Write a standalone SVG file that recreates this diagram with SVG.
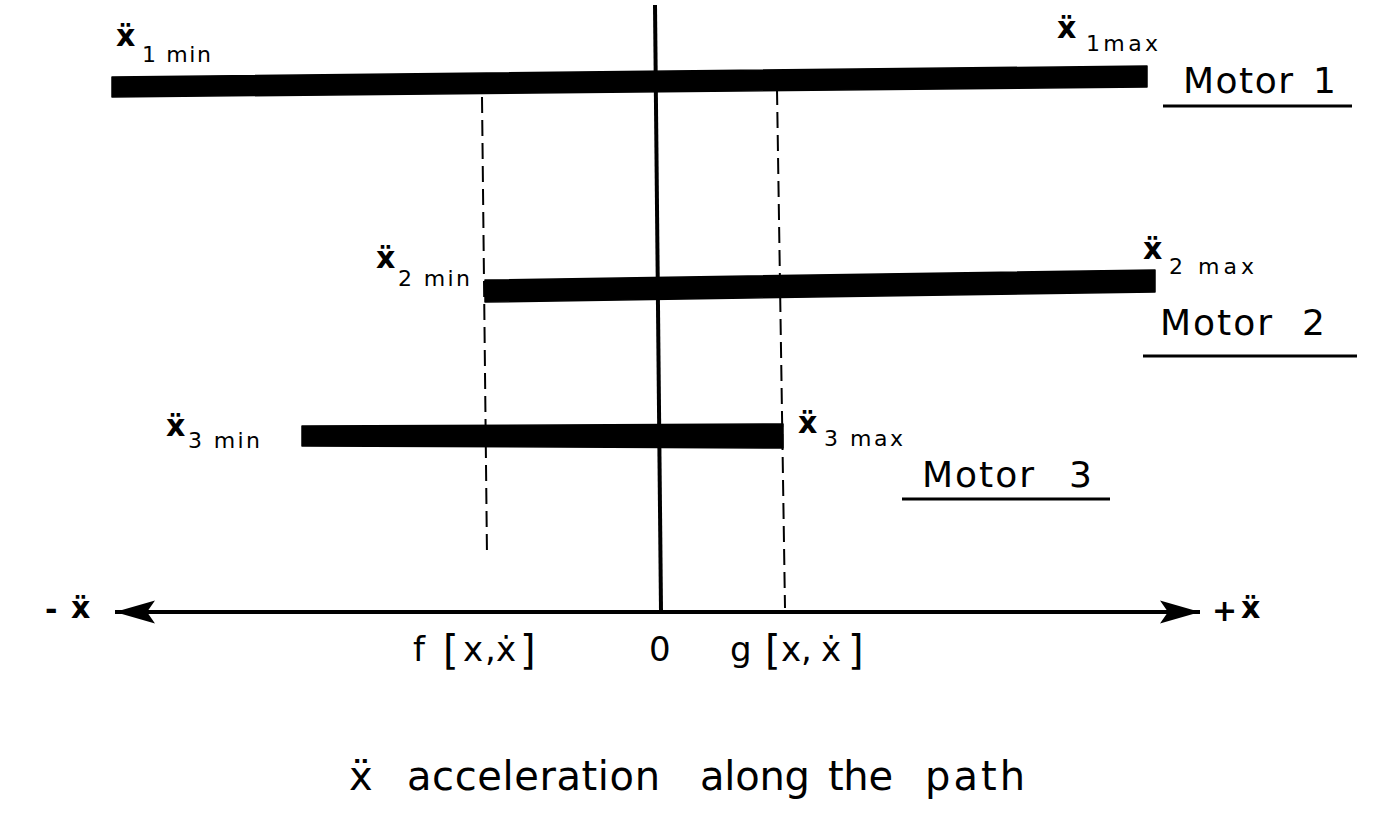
<svg xmlns="http://www.w3.org/2000/svg" width="1391" height="813" viewBox="0 0 1391 813">
<style>
text{font-family:"DejaVu Sans","Liberation Sans",sans-serif;fill:#000}
.v{font-size:30px;font-weight:bold}
.sub{font-size:22px}
.motor{font-size:36px}
.lab{font-size:34px}
.br{font-size:40px}
.cap{font-size:40px}
.bar{fill:#000;stroke:#000;stroke-width:1.5;stroke-linejoin:round}
.ul{stroke:#000;stroke-width:3;fill:none}
.dash{stroke:#000;stroke-width:2;fill:none;stroke-dasharray:16 7}
.axis{stroke:#000;stroke-width:4;fill:none}
</style>
<defs>
<marker id="arr" viewBox="0 -12 40 24" refX="40" refY="0" markerWidth="40" markerHeight="24" markerUnits="userSpaceOnUse" orient="auto-start-reverse">
<path d="M40,0 L0,-11.5 L8,0 L0,11.5 Z" fill="#000"/>
</marker>
</defs>
<rect width="1391" height="813" fill="#fff"/>

<g id="connectors">
<line class="dash" x1="482" y1="97" x2="487" y2="556"/>
<line class="dash" x1="777" y1="89" x2="785" y2="608"/>
</g>

<g id="axes">
<line class="axis" x1="655" y1="5" x2="661" y2="610" stroke-width="5"/>
<line class="axis" x1="115" y1="612" x2="1200" y2="612" marker-start="url(#arr)" marker-end="url(#arr)"/>
<text class="v" x="45" y="620">-</text>
<text class="v" x="71" y="618">ẍ</text>
<text class="v" x="1212" y="621" font-size="26">+</text>
<text class="v" x="1241" y="618">ẍ</text>
</g>

<g id="motor1">
<polygon class="bar" points="112,77 1147,66 1147,87 112,97"/>
<text class="v" x="116" y="46">ẍ</text>
<text class="sub" x="142" y="62" textLength="69" lengthAdjust="spacing">1 min</text>
<text class="v" x="1057" y="38">ẍ</text>
<text class="sub" x="1086" y="51" textLength="72" lengthAdjust="spacing">1max</text>
<text class="motor" x="1183" y="93" textLength="110" lengthAdjust="spacing">Motor</text>
<text class="motor" x="1313" y="93">1</text>
<line class="ul" x1="1163" y1="106" x2="1352" y2="106"/>
</g>

<g id="motor2">
<polygon class="bar" points="485,280 1155,270 1155,292 485,302"/>
<text class="v" x="376" y="268">ẍ</text>
<text class="sub" x="398" y="286" textLength="72" lengthAdjust="spacing">2 min</text>
<text class="v" x="1143" y="259">ẍ</text>
<text class="sub" x="1169" y="274" textLength="85" lengthAdjust="spacing">2 max</text>
<text class="motor" x="1160" y="335" textLength="112" lengthAdjust="spacing">Motor</text>
<text class="motor" x="1302" y="335">2</text>
<line class="ul" x1="1143" y1="356" x2="1357" y2="356"/>
</g>

<g id="motor3">
<polygon class="bar" points="302,426 783,424 783,448 302,446"/>
<text class="v" x="166" y="436">ẍ</text>
<text class="sub" x="188" y="448" textLength="72" lengthAdjust="spacing">3 min</text>
<text class="v" x="798" y="433">ẍ</text>
<text class="sub" x="824" y="446" textLength="79" lengthAdjust="spacing">3 max</text>
<text class="motor" x="922" y="487" textLength="112" lengthAdjust="spacing">Motor</text>
<text class="motor" x="1069" y="487">3</text>
<line class="ul" x1="902" y1="499" x2="1110" y2="499"/>
</g>

<g id="labels">
<text class="lab" x="413" y="661">f</text>
<text class="br" x="443" y="664">[</text>
<text class="lab" x="463" y="661">x</text>
<text class="lab" x="485" y="661">,</text>
<text class="lab" x="496" y="661">ẋ</text>
<text class="br" x="520" y="664">]</text>
<text class="lab" x="649" y="661">0</text>
<text class="lab" x="730" y="661">g</text>
<text class="br" x="765" y="664">[</text>
<text class="lab" x="781" y="661">x</text>
<text class="lab" x="801" y="661">,</text>
<text class="lab" x="821" y="661">ẋ</text>
<text class="br" x="848" y="664">]</text>
</g>

<g id="caption">
<text class="cap" x="349" y="790" font-size="28">ẍ</text>
<text class="cap" x="407" y="790" textLength="253" lengthAdjust="spacing">acceleration</text>
<text class="cap" x="700" y="790" textLength="110" lengthAdjust="spacing">along</text>
<text class="cap" x="828" y="790" textLength="65" lengthAdjust="spacing">the</text>
<text class="cap" x="925" y="790" textLength="100" lengthAdjust="spacing">path</text>
</g>
</svg>
